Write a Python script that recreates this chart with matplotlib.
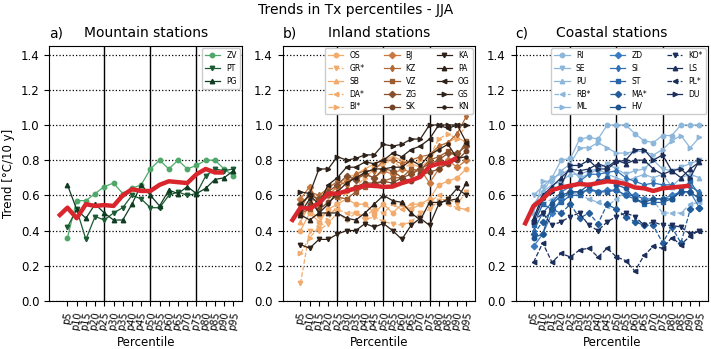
import matplotlib

matplotlib.use("Agg")
import matplotlib.pyplot as plt

percentiles = [f"p{p}" for p in range(5, 100, 5)]

# Tx trends per station [°C/10 y], p5 ... p95
mountain = {
    "ZV": [0.36, 0.57, 0.57, 0.61, 0.65, 0.67, 0.61, 0.64, 0.66, 0.75,
           0.80, 0.75, 0.80, 0.75, 0.77, 0.80, 0.80, 0.75, 0.71],
    "PT": [0.42, 0.52, 0.35, 0.48, 0.46, 0.50, 0.53, 0.60, 0.58, 0.53,
           0.53, 0.60, 0.62, 0.60, 0.61, 0.71, 0.75, 0.74, 0.75],
    "PG": [0.66, 0.52, 0.47, 0.55, 0.50, 0.46, 0.46, 0.55, 0.66, 0.60,
           0.54, 0.63, 0.61, 0.65, 0.61, 0.64, 0.69, 0.70, 0.74],
}
inland = {
    "OS": [0.40, 0.50, 0.45, 0.52, 0.55, 0.58, 0.55, 0.55, 0.50, 0.55,
           0.50, 0.55, 0.52, 0.55, 0.58, 0.66, 0.68, 0.70, 0.75],
    "GR*": [0.10, 0.40, 0.40, 0.44, 0.50, 0.46, 0.50, 0.46, 0.48, 0.45,
            0.44, 0.43, 0.45, 0.50, 0.52, 0.57, 0.58, 0.55, 0.62],
    "SB": [0.45, 0.55, 0.60, 0.62, 0.66, 0.70, 0.72, 0.75, 0.78, 0.80,
           0.82, 0.80, 0.78, 0.76, 0.80, 0.88, 0.90, 0.93, 0.90],
    "DA*": [0.50, 0.50, 0.48, 0.50, 0.52, 0.50, 0.50, 0.48, 0.52, 0.50,
            0.55, 0.52, 0.55, 0.55, 0.56, 0.60, 0.55, 0.53, 0.52],
    "BI*": [0.27, 0.36, 0.42, 0.46, 0.55, 0.62, 0.65, 0.70, 0.75, 0.78,
            0.80, 0.75, 0.78, 0.80, 0.82, 0.92, 0.95, 0.92, 1.00],
    "BJ": [0.58, 0.65, 0.55, 0.60, 0.65, 0.68, 0.70, 0.72, 0.70, 0.74,
           0.72, 0.75, 0.73, 0.75, 0.67, 0.75, 0.80, 0.76, 0.80],
    "KZ": [0.52, 0.62, 0.60, 0.64, 0.68, 0.66, 0.72, 0.74, 0.74, 0.80,
           0.80, 0.78, 0.80, 0.82, 0.83, 0.88, 0.90, 0.95, 1.05],
    "VZ": [0.50, 0.52, 0.58, 0.60, 0.59, 0.58, 0.62, 0.65, 0.66, 0.68,
           0.70, 0.70, 0.75, 0.74, 0.80, 0.82, 0.85, 0.82, 0.91],
    "ZG": [0.55, 0.60, 0.58, 0.62, 0.66, 0.71, 0.69, 0.72, 0.70, 0.75,
           0.74, 0.70, 0.72, 0.75, 0.78, 0.80, 0.84, 0.84, 0.88],
    "SK": [0.50, 0.55, 0.52, 0.56, 0.60, 0.63, 0.65, 0.67, 0.67, 0.68,
           0.67, 0.70, 0.68, 0.72, 0.73, 0.75, 0.78, 0.80, 0.85],
    "KA": [0.32, 0.30, 0.35, 0.35, 0.38, 0.40, 0.40, 0.44, 0.42, 0.44,
           0.40, 0.35, 0.43, 0.47, 0.43, 0.55, 0.58, 0.64, 0.60],
    "PA": [0.49, 0.46, 0.50, 0.50, 0.50, 0.47, 0.46, 0.50, 0.55, 0.60,
           0.57, 0.56, 0.50, 0.46, 0.56, 0.56, 0.57, 0.58, 0.67],
    "OG": [0.55, 0.60, 0.55, 0.66, 0.70, 0.76, 0.76, 0.79, 0.78, 0.80,
           0.84, 0.82, 0.86, 0.88, 0.92, 1.00, 0.98, 1.00, 0.90],
    "GS": [0.62, 0.61, 0.75, 0.75, 0.82, 0.80, 0.81, 0.83, 0.83, 0.89,
           0.88, 0.89, 0.92, 0.92, 1.00, 1.00, 1.00, 1.00, 1.00],
    "KN": [0.50, 0.58, 0.50, 0.55, 0.62, 0.67, 0.70, 0.73, 0.75, 0.75,
           0.76, 0.76, 0.80, 0.77, 0.83, 0.86, 0.89, 0.81, 0.82],
}
coastal = {
    "RI": [0.45, 0.62, 0.70, 0.80, 0.81, 0.92, 0.93, 0.92, 1.00, 1.00,
           1.00, 0.95, 0.91, 0.90, 0.94, 0.94, 1.00, 1.00, 1.00],
    "SE": [0.60, 0.65, 0.70, 0.72, 0.75, 0.70, 0.72, 0.75, 0.78, 0.75,
           0.72, 0.74, 0.75, 0.80, 0.75, 0.74, 0.76, 0.78, 0.80],
    "PU": [0.55, 0.62, 0.66, 0.68, 0.72, 0.72, 0.74, 0.75, 0.72, 0.70,
           0.68, 0.70, 0.72, 0.70, 0.72, 0.65, 0.70, 0.72, 0.70],
    "RB*": [0.45, 0.55, 0.58, 0.60, 0.62, 0.60, 0.58, 0.56, 0.54, 0.58,
            0.62, 0.60, 0.58, 0.57, 0.50, 0.50, 0.50, 0.55, 0.56],
    "ML": [0.50, 0.68, 0.68, 0.74, 0.78, 0.87, 0.87, 0.90, 0.87, 0.84,
           0.84, 0.85, 0.85, 0.83, 0.86, 0.91, 0.94, 0.87, 0.93],
    "ZD": [0.31, 0.38, 0.50, 0.58, 0.62, 0.62, 0.63, 0.62, 0.63, 0.63,
           0.60, 0.60, 0.58, 0.58, 0.58, 0.60, 0.62, 0.62, 0.53],
    "SI": [0.40, 0.50, 0.56, 0.62, 0.65, 0.68, 0.72, 0.72, 0.73, 0.74,
           0.70, 0.68, 0.66, 0.67, 0.66, 0.66, 0.64, 0.65, 0.62],
    "ST": [0.43, 0.55, 0.52, 0.56, 0.60, 0.60, 0.64, 0.62, 0.62, 0.63,
           0.60, 0.58, 0.55, 0.56, 0.56, 0.58, 0.63, 0.68, 0.60],
    "MA*": [0.38, 0.45, 0.52, 0.50, 0.55, 0.47, 0.50, 0.44, 0.55, 0.52,
            0.48, 0.45, 0.43, 0.43, 0.33, 0.42, 0.33, 0.52, 0.53],
    "HV": [0.36, 0.38, 0.55, 0.60, 0.62, 0.62, 0.66, 0.68, 0.70, 0.66,
           0.64, 0.58, 0.56, 0.58, 0.58, 0.58, 0.62, 0.62, 0.58],
    "KO*": [0.45, 0.50, 0.43, 0.45, 0.48, 0.50, 0.43, 0.40, 0.45, 0.48,
            0.50, 0.48, 0.43, 0.45, 0.43, 0.43, 0.42, 0.38, 0.40],
    "LS": [0.47, 0.60, 0.65, 0.70, 0.75, 0.74, 0.75, 0.78, 0.76, 0.80,
           0.78, 0.80, 0.80, 0.75, 0.72, 0.74, 0.70, 0.75, 0.79],
    "PL*": [0.22, 0.33, 0.22, 0.27, 0.25, 0.29, 0.30, 0.25, 0.30, 0.25,
            0.23, 0.17, 0.26, 0.31, 0.30, 0.36, 0.32, 0.37, 0.40],
    "DU": [0.45, 0.58, 0.62, 0.66, 0.77, 0.77, 0.80, 0.75, 0.75, 0.79,
           0.80, 0.86, 0.86, 0.80, 0.83, 0.74, 0.75, 0.70, 0.80],
}

# regional mean trend
mountain_mean = [0.48, 0.53, 0.47, 0.55, 0.54, 0.545, 0.54, 0.60, 0.635, 0.625,
                 0.625, 0.66, 0.68, 0.675, 0.67, 0.72, 0.75, 0.73, 0.73]
inland_mean = [0.45, 0.53, 0.525, 0.555, 0.61, 0.61, 0.625, 0.64, 0.655, 0.655,
               0.648, 0.65, 0.67, 0.685, 0.705, 0.765, 0.78, 0.785, 0.815]
coastal_mean = [0.43, 0.54, 0.58, 0.63, 0.645, 0.655, 0.665, 0.66, 0.67, 0.68,
                0.675, 0.665, 0.645, 0.64, 0.625, 0.64, 0.645, 0.65, 0.655]

MARKERS_A = ["o", "v", "^"]
MARKERS_BC = ["o", "v", "^", "<", ">", "D", "d", "s", "D", "o",
              "v", "^", "<", ">", "."]

panels = [
    ("a)", "Mountain stations", mountain, mountain_mean,
     ["#4fa86a", "#1c5a33", "#103d22"], 1),
    ("b)", "Inland stations", inland, inland_mean,
     ["#f2ab6c"] * 5 + ["#c9783f", "#b36a37", "#9c5c31", "#87502c", "#744428"]
     + ["#2e2119"] * 5, 3),
    ("c)", "Coastal stations", coastal, coastal_mean,
     ["#8db6db"] * 5 + ["#3a7bbf", "#3271b3", "#2a67a8", "#235d9c", "#1e5490"]
     + ["#1c2f5c"] * 4, 3),
]

fig, axes = plt.subplots(1, 3, figsize=(7.11, 3.49), dpi=100)
fig.subplots_adjust(left=0.0696, right=0.996, bottom=0.1375, top=0.869, wspace=0.21)
fig.suptitle("Trends in Tx percentiles - JJA", fontsize=10, y=0.99)

x = list(range(len(percentiles)))
for ax, (tag, title, stations, mean, colors, ncol) in zip(axes, panels):
    markers = MARKERS_A if len(stations) == 3 else MARKERS_BC
    for i, (name, vals) in enumerate(stations.items()):
        ls = "--" if name.endswith("*") else "-"
        ms = 4.5 if markers[i] == "." else 3.2
        ax.plot(x, vals, ls, color=colors[i], marker=markers[i], ms=ms,
                lw=0.9, label=name, zorder=3)
    # mean curve sits one category to the left
    ax.plot([v - 1 for v in x], mean, color="#d8262c", lw=3.2, zorder=4,
            solid_capstyle="butt")
    for pos in (4, 9, 14):
        ax.axvline(pos, color="black", lw=1.0, zorder=1)
    ax.grid(axis="y", color="black", ls=":", lw=0.9, zorder=0)
    ax.set_ylim(0, 1.45)
    ax.set_xlim(-1.95, 18.95)
    ax.set_yticks([0, 0.2, 0.4, 0.6, 0.8, 1.0, 1.2, 1.4])
    ax.set_xticks(x, percentiles, rotation=80, fontsize=7)
    ax.tick_params(axis="y", labelsize=8.5)
    ax.set_xlabel("Percentile", fontsize=8.5)
    ax.set_title(title, fontsize=10)
    ax.set_title(tag, loc="left", fontsize=10)
    for sp in ax.spines.values():
        sp.set_color("black")
    ax.legend(loc="upper right", ncol=ncol, fontsize=5.5, framealpha=1,
              borderaxespad=0.3, handlelength=2.0, columnspacing=2.6)

axes[0].set_ylabel("Trend [°C/10 y]", fontsize=8.5)

fig.savefig("out.png", dpi=100)
